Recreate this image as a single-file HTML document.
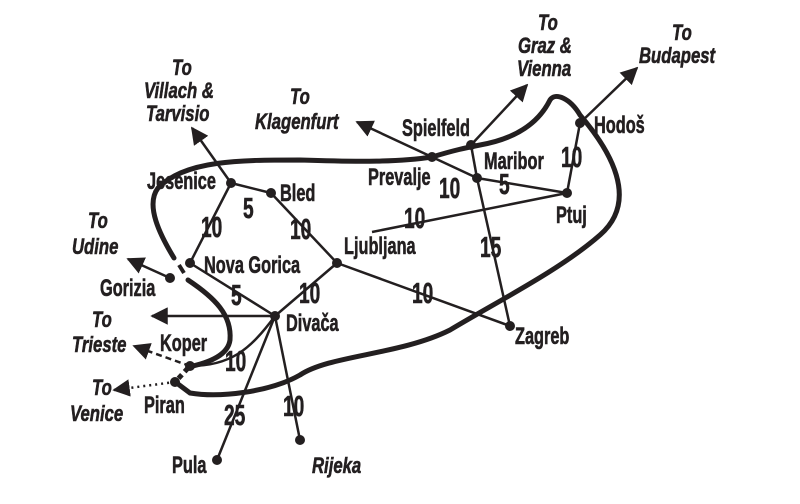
<!DOCTYPE html>
<html><head><meta charset="utf-8"><style>
html,body{margin:0;padding:0;background:#fff;}
svg{display:block}
text{font-family:"Liberation Sans",sans-serif;font-weight:bold;fill:#231f20;font-size:24px;stroke:#231f20;stroke-width:.6}
.i{font-style:italic;font-size:22px}
.n{font-size:29px}
</style></head><body>
<svg width="800" height="504" viewBox="0 0 800 504" xmlns="http://www.w3.org/2000/svg">
<defs><marker id="a" viewBox="0 0 10 10" refX="9" refY="5" markerWidth="7" markerHeight="7" orient="auto"><path d="M0,0 L10,5 L0,10 z" fill="#231f20"/></marker></defs>
<g fill="none" stroke="#231f20" stroke-width="5" stroke-linecap="round">
<path d="M174,258 C160,235 145,205 158,188 C185,160 240,160 300,160 C360,162 400,162 432,157 C455,150 465,148 480,145 C520,138 540,120 550,100 C555,92 570,98 580,115 C610,150 640,200 600,235 C560,270 500,300 450,330 C400,355 330,355 300,375 C270,392 220,398 190,393 L178,384"/>
<path d="M188,280 C215,298 232,315 230,340 C228,355 210,362 193,366"/>
<path d="M188,368 L177,380" stroke-dasharray="5,4" stroke-linecap="butt"/>
<path d="M179,265 L184,273" stroke-width="4" stroke-linecap="butt"/>
</g>
<g stroke="#231f20" stroke-width="2.5" fill="none">
<line x1="231" y1="183" x2="271" y2="193"/>
<line x1="231" y1="183" x2="190" y2="263"/>
<line x1="271" y1="193" x2="337" y2="263"/>
<line x1="190" y1="263" x2="275" y2="316"/>
<line x1="337" y1="263" x2="275" y2="316"/>
<line x1="337" y1="263" x2="510" y2="326"/>
<path d="M372,232 L567,193"/>
<line x1="432" y1="157" x2="477" y2="178"/>
<line x1="471" y1="145" x2="477" y2="178"/>
<line x1="477" y1="178" x2="567" y2="193"/>
<line x1="477" y1="178" x2="510" y2="326"/>
<line x1="580" y1="123" x2="567" y2="193"/>
<path d="M275,316 C250,350 230,366 190,366"/>
<line x1="275" y1="316" x2="217" y2="460"/>
<line x1="275" y1="316" x2="300" y2="440"/>
<line x1="231" y1="183" x2="192" y2="128" marker-end="url(#a)"/>
<line x1="432" y1="157" x2="357" y2="122" marker-end="url(#a)"/>
<line x1="471" y1="145" x2="527" y2="85" marker-end="url(#a)"/>
<line x1="580" y1="123" x2="637" y2="68" marker-end="url(#a)"/>
<line x1="275" y1="316" x2="152" y2="316" marker-end="url(#a)"/>
<line x1="170" y1="278" x2="128" y2="259" marker-end="url(#a)"/>
<line x1="190" y1="366" x2="134" y2="346" stroke-dasharray="6,4" marker-end="url(#a)"/>
<line x1="175" y1="382" x2="114" y2="390" stroke-dasharray="2,4" marker-end="url(#a)"/>
</g>
<g fill="#231f20">
<circle cx="231" cy="183" r="5"/><circle cx="271" cy="193" r="5"/><circle cx="190" cy="263" r="5"/>
<circle cx="170" cy="278" r="5"/><circle cx="337" cy="263" r="5"/><circle cx="275" cy="316" r="5"/>
<circle cx="190" cy="366" r="5"/><circle cx="175" cy="382" r="5"/><circle cx="217" cy="460" r="5"/>
<circle cx="300" cy="440" r="5"/><circle cx="510" cy="326" r="5"/><circle cx="432" cy="157" r="5"/>
<circle cx="471" cy="145" r="5"/><circle cx="477" cy="178" r="5"/><circle cx="567" cy="193" r="5"/>
<circle cx="580" cy="123" r="5"/>
</g>
<g>
<text transform="translate(147,189) scale(.68,1)">Jesenice</text>
<text transform="translate(280,201) scale(.68,1)">Bled</text>
<text transform="translate(204,273) scale(.68,1)">Nova Gorica</text>
<text transform="translate(100,296) scale(.68,1)">Gorizia</text>
<text transform="translate(344,254) scale(.68,1)">Ljubljana</text>
<text transform="translate(286,331) scale(.68,1)">Divača</text>
<text transform="translate(160,351) scale(.68,1)">Koper</text>
<text transform="translate(144,413) scale(.68,1)">Piran</text>
<text transform="translate(172,473) scale(.68,1)">Pula</text>
<text transform="translate(515,344) scale(.68,1)">Zagreb</text>
<text transform="translate(368,185) scale(.68,1)">Prevalje</text>
<text transform="translate(402,136) scale(.68,1)">Spielfeld</text>
<text transform="translate(484,169) scale(.68,1)">Maribor</text>
<text transform="translate(556,223) scale(.68,1)">Ptuj</text>
<text transform="translate(594,133) scale(.68,1)">Hodoš</text>
<text class="i" transform="translate(312,473) scale(.76,1)">Rijeka</text>
<text class="i" transform="translate(172,75) scale(.76,1)">To</text>
<text class="i" transform="translate(144,98) scale(.76,1)">Villach &amp;</text>
<text class="i" transform="translate(146,121) scale(.76,1)">Tarvisio</text>
<text class="i" transform="translate(290,104) scale(.76,1)">To</text>
<text class="i" transform="translate(255,129) scale(.76,1)">Klagenfurt</text>
<text class="i" transform="translate(538,30) scale(.76,1)">To</text>
<text class="i" transform="translate(518,53) scale(.76,1)">Graz &amp;</text>
<text class="i" transform="translate(517,76) scale(.76,1)">Vienna</text>
<text class="i" transform="translate(672,40) scale(.76,1)">To</text>
<text class="i" transform="translate(639,63) scale(.76,1)">Budapest</text>
<text class="i" transform="translate(88,228) scale(.76,1)">To</text>
<text class="i" transform="translate(72,254) scale(.76,1)">Udine</text>
<text class="i" transform="translate(92,327) scale(.76,1)">To</text>
<text class="i" transform="translate(72,352) scale(.76,1)">Trieste</text>
<text class="i" transform="translate(92,395) scale(.76,1)">To</text>
<text class="i" transform="translate(70,421) scale(.76,1)">Venice</text>
<text class="n" transform="translate(243,218) scale(.66,1)">5</text>
<text class="n" transform="translate(201,237) scale(.66,1)">10</text>
<text class="n" transform="translate(290,239) scale(.66,1)">10</text>
<text class="n" transform="translate(231,305) scale(.66,1)">5</text>
<text class="n" transform="translate(299,303) scale(.66,1)">10</text>
<text class="n" transform="translate(412,303) scale(.66,1)">10</text>
<text class="n" transform="translate(404,228) scale(.66,1)">10</text>
<text class="n" transform="translate(439,198) scale(.66,1)">10</text>
<text class="n" transform="translate(499,194) scale(.66,1)">5</text>
<text class="n" transform="translate(480,257) scale(.66,1)">15</text>
<text class="n" transform="translate(561,167) scale(.66,1)">10</text>
<text class="n" transform="translate(225,371) scale(.66,1)">10</text>
<text class="n" transform="translate(224,425) scale(.66,1)">25</text>
<text class="n" transform="translate(283,416) scale(.66,1)">10</text>
</g>
</svg>
</body></html>
